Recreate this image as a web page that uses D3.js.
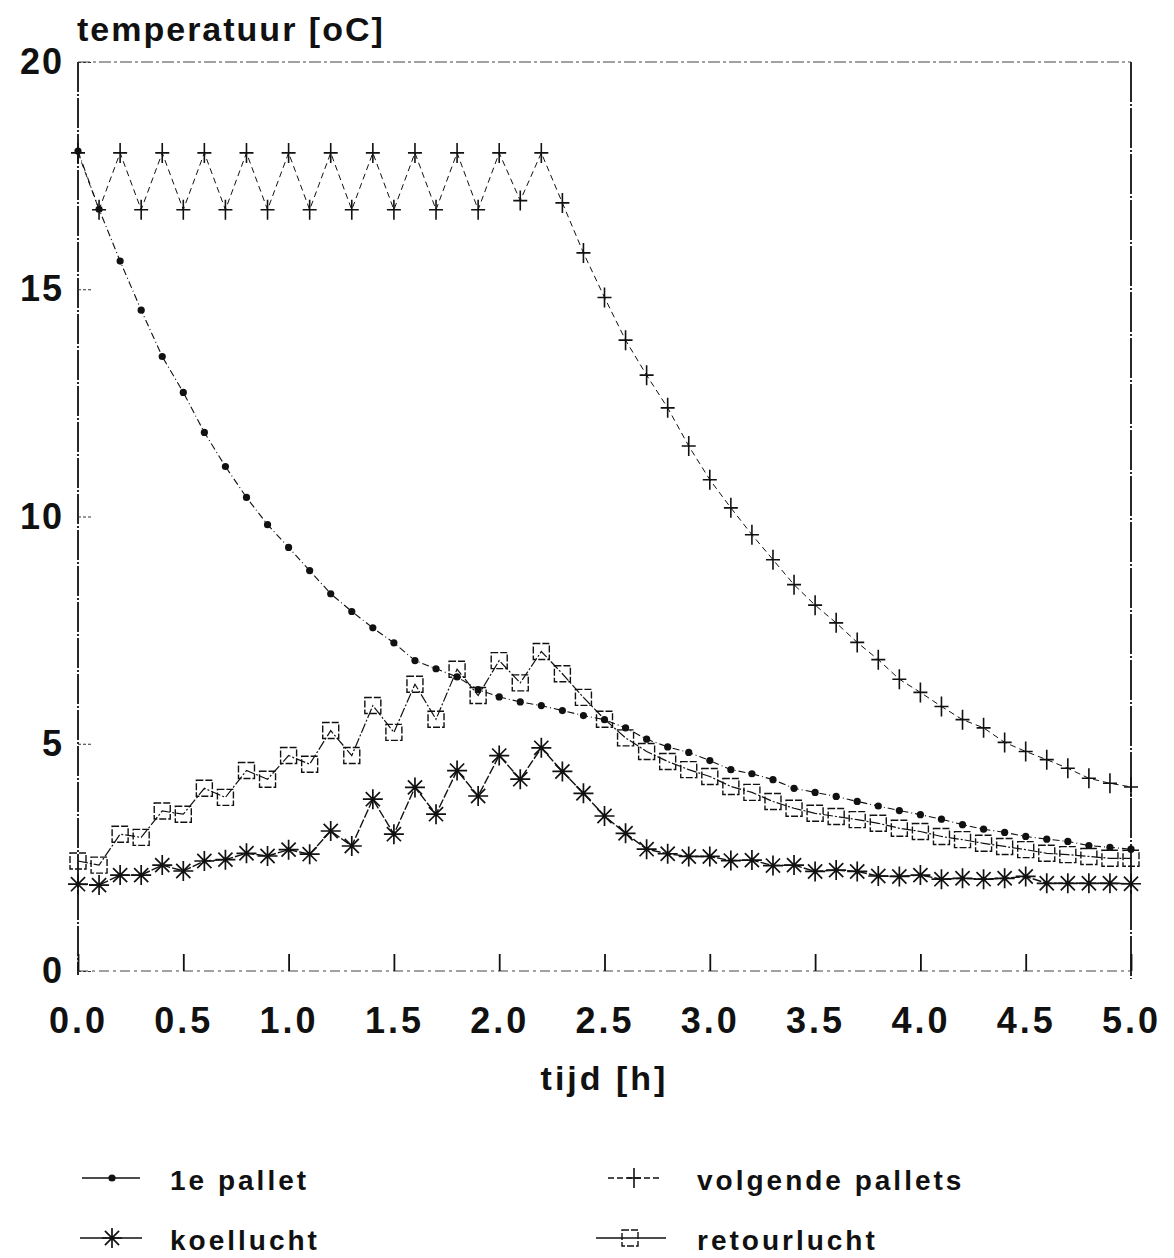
<!DOCTYPE html>
<html>
<head>
<meta charset="utf-8">
<script src="https://cdn.jsdelivr.net/npm/d3@7"></script>
<style>
  body { margin: 0; background: #fff; }
  svg { display: block; }
  text { font-family: "Liberation Sans", Arial, Helvetica, sans-serif; font-weight: bold; fill: #111; }
</style>
</head>
<body>
<script>
const log = console.log;

// time axis [h]
const tijd = [0.0, 0.1, 0.2, 0.3, 0.4, 0.5, 0.6, 0.7, 0.8, 0.9,
              1.0, 1.1, 1.2, 1.3, 1.4, 1.5, 1.6, 1.7, 1.8, 1.9,
              2.0, 2.1, 2.2, 2.3, 2.4, 2.5, 2.6, 2.7, 2.8, 2.9,
              3.0, 3.1, 3.2, 3.3, 3.4, 3.5, 3.6, 3.7, 3.8, 3.9,
              4.0, 4.1, 4.2, 4.3, 4.4, 4.5, 4.6, 4.7, 4.8, 4.9, 5.0];

// temperatures [oC]
const pallet1 = [18.04, 16.76, 15.62, 14.54, 13.52, 12.73, 11.85, 11.10, 10.42, 9.82,
                 9.32, 8.81, 8.30, 7.91, 7.55, 7.22, 6.83, 6.65, 6.47, 6.19,
                 6.03, 5.92, 5.84, 5.73, 5.62, 5.53, 5.35, 5.10, 4.93, 4.81,
                 4.63, 4.43, 4.34, 4.21, 4.02, 3.93, 3.84, 3.73, 3.63, 3.53,
                 3.44, 3.34, 3.22, 3.12, 3.05, 2.96, 2.90, 2.85, 2.76, 2.72, 2.68];

const volgende = [18.0, 16.75, 18.0, 16.75, 18.0, 16.75, 18.0, 16.75, 18.0, 16.75,
                  18.0, 16.75, 18.0, 16.75, 18.0, 16.75, 18.0, 16.75, 18.0, 16.75,
                  18.0, 16.95, 18.0, 16.9, 15.8, 14.82, 13.88, 13.11, 12.39, 11.55,
                  10.81, 10.19, 9.60, 9.05, 8.50, 8.05, 7.66, 7.23, 6.85, 6.42,
                  6.13, 5.82, 5.53, 5.35, 5.03, 4.83, 4.65, 4.46, 4.24, 4.13, 4.05];

const koellucht = [1.91, 1.89, 2.11, 2.11, 2.33, 2.20, 2.42, 2.45, 2.59, 2.53,
                   2.67, 2.57, 3.08, 2.75, 3.78, 3.01, 4.04, 3.45, 4.41, 3.85,
                   4.74, 4.22, 4.91, 4.39, 3.91, 3.41, 3.03, 2.68, 2.58, 2.52,
                   2.52, 2.43, 2.44, 2.32, 2.33, 2.19, 2.22, 2.19, 2.09, 2.08,
                   2.11, 2.02, 2.04, 2.02, 2.04, 2.08, 1.93, 1.93, 1.93, 1.93, 1.92];

const retourlucht = [2.42, 2.33, 3.01, 2.94, 3.52, 3.45, 4.02, 3.82, 4.41, 4.22,
                     4.74, 4.55, 5.29, 4.74, 5.84, 5.25, 6.31, 5.54, 6.64, 6.06,
                     6.83, 6.34, 7.03, 6.54, 6.02, 5.54, 5.13, 4.83, 4.61, 4.43,
                     4.28, 4.06, 3.93, 3.73, 3.58, 3.47, 3.40, 3.33, 3.25, 3.14,
                     3.07, 2.96, 2.89, 2.81, 2.74, 2.67, 2.59, 2.56, 2.52, 2.48, 2.48];

const xTicks = [0.0, 0.5, 1.0, 1.5, 2.0, 2.5, 3.0, 3.5, 4.0, 4.5, 5.0];
const yTicks = [0, 5, 10, 15, 20];

const yTitle = "temperatuur [oC]";
const xTitle = "tijd [h]";

const series = [
  { name: "1e pallet",         values: pallet1,     marker: "dot",    dash: "7,3,1,3", width: 1.1 },
  { name: "volgende pallets",  values: volgende,    marker: "plus",   dash: "6,4",     width: 1.0 },
  { name: "koellucht",         values: koellucht,   marker: "star",   dash: "9,2",     width: 1.4 },
  { name: "retourlucht",       values: retourlucht, marker: "square", dash: "10,2,2,2", width: 1.2 },
];

const size = { width: 1174, height: 1258 };
const plot = { left: 78, right: 1131, top: 62, bottom: 971 };

const svg = d3.select('body').append('svg')
  .attr('width', size.width)
  .attr('height', size.height);

const x = d3.scaleLinear().domain([0, 5]).range([plot.left, plot.right]);
const y = d3.scaleLinear().domain([0, 20]).range([plot.bottom, plot.top]);

/* marker shapes, centred on 0,0 */
const markerPath = {
  dot: null,
  plus: "M0,-10V10M-7,0H7",
  star: (() => {
    let p = "";
    [0, 45, 90, 135].forEach(a => {
      const r = 10, t = a * Math.PI / 180;
      p += `M${(-r * Math.cos(t)).toFixed(2)},${(-r * Math.sin(t)).toFixed(2)}L${(r * Math.cos(t)).toFixed(2)},${(r * Math.sin(t)).toFixed(2)}`;
    });
    return p;
  })(),
  square: "M-8,-8H8V8H-8Z",
};

function drawMarker(g, type) {
  if (type === "dot") {
    g.append("circle").attr("r", 3.6).attr("fill", "#111");
  } else if (type === "square") {
    g.append("path").attr("d", markerPath.square)
      .attr("fill", "none").attr("stroke", "#111").attr("stroke-width", 1.4)
      .attr("stroke-dasharray", "7,2");
  } else {
    g.append("path").attr("d", markerPath[type])
      .attr("fill", "none").attr("stroke", "#111")
      .attr("stroke-width", type === "star" ? 1.7 : 1.6);
  }
}

/* frame */
const frame = svg.append("g").attr("class", "frame").attr("stroke", "#111").attr("fill", "none");
frame.append("line").attr("x1", plot.left).attr("x2", plot.left).attr("y1", plot.top).attr("y2", plot.bottom + 4)
  .attr("stroke-width", 1.8).attr("stroke-dasharray", "30,2,2,2");
frame.append("line").attr("x1", plot.right).attr("x2", plot.right).attr("y1", plot.top).attr("y2", plot.bottom + 8)
  .attr("stroke-width", 1.8).attr("stroke-dasharray", "40,2,2,2");
frame.append("line").attr("x1", plot.left).attr("x2", plot.right).attr("y1", plot.top).attr("y2", plot.top)
  .attr("stroke-width", 1).attr("stroke-dasharray", "12,3,3,3").attr("stroke", "#444");
frame.append("line").attr("x1", plot.left).attr("x2", plot.right).attr("y1", plot.bottom).attr("y2", plot.bottom)
  .attr("stroke-width", 1).attr("stroke-dasharray", "10,4,3,4").attr("stroke", "#444");

/* axes */
const xAxis = svg.append("g")
  .attr("transform", `translate(0,${plot.bottom})`)
  .call(d3.axisBottom(x).tickValues(xTicks).tickFormat(d3.format(".1f"))
    .tickSizeInner(-17).tickSizeOuter(0).tickPadding(36));
xAxis.select(".domain").remove();
xAxis.selectAll(".tick line").attr("stroke", "#111").attr("stroke-width", 1.8);
xAxis.selectAll(".tick text")
  .attr("font-size", 36).attr("letter-spacing", 3).attr("fill", "#111")
  .attr("font-family", '"Liberation Sans", Arial, sans-serif').attr("font-weight", "bold");

const yAxis = svg.append("g")
  .attr("transform", `translate(${plot.left},0)`)
  .call(d3.axisLeft(y).tickValues(yTicks).tickFormat(d3.format("d"))
    .tickSizeInner(-14).tickSizeOuter(0).tickPadding(14));
yAxis.select(".domain").remove();
yAxis.selectAll(".tick line").attr("stroke", "#333").attr("stroke-width", 1).attr("stroke-dasharray", "3,2");
yAxis.selectAll(".tick text")
  .attr("font-size", 36).attr("letter-spacing", 2).attr("fill", "#111")
  .attr("font-family", '"Liberation Sans", Arial, sans-serif').attr("font-weight", "bold");

/* titles */
svg.append("text").attr("x", 77).attr("y", 41)
  .attr("font-size", 34).attr("letter-spacing", 2)
  .text(yTitle);
svg.append("text").attr("x", x(2.5)).attr("y", 1090)
  .attr("text-anchor", "middle").attr("font-size", 34).attr("letter-spacing", 3)
  .text(xTitle);

/* series */
const line = d3.line()
  .x((d, i) => x(tijd[i]))
  .y(d => y(d));

const lines = svg.append("g").attr("class", "series");
series.forEach(s => {
  lines.append("path")
    .attr("d", line(s.values))
    .attr("fill", "none")
    .attr("stroke", "#111")
    .attr("stroke-width", s.width)
    .attr("stroke-dasharray", s.dash);
});

series.forEach(s => {
  const mg = svg.append("g").attr("class", "markers");
  mg.selectAll("g")
    .data(s.values)
    .enter()
    .append("g")
      .attr("transform", (d, i) => `translate(${x(tijd[i])},${y(d)})`)
      .each(function () { drawMarker(d3.select(this), s.marker); });
});

/* legend */
const legendPos = [
  { x: 82,  y: 1190, line: [82, 140],  mx: 112 },
  { x: 598, y: 1190, line: [608, 662], mx: 634 },
  { x: 82,  y: 1250, line: [80, 142],  mx: 112 },
  { x: 598, y: 1250, line: [596, 666], mx: 630 },
];
const legendText = [170, 697, 170, 697];

const legend = svg.append("g").attr("class", "legend");
series.forEach((s, i) => {
  const p = legendPos[i];
  const ly = p.y - 12;
  legend.append("line")
    .attr("x1", p.line[0]).attr("x2", p.line[1]).attr("y1", ly).attr("y2", ly)
    .attr("stroke", "#111").attr("stroke-width", 1.3)
    .attr("stroke-dasharray", i === 1 ? "6,3" : null);
  const mg = legend.append("g").attr("transform", `translate(${p.mx},${ly})`);
  drawMarker(mg, s.marker);
  legend.append("text")
    .attr("x", legendText[i]).attr("y", p.y)
    .attr("font-size", 28).attr("letter-spacing", 3)
    .text(s.name);
});

log("drawn");
</script>
</body>
</html>
